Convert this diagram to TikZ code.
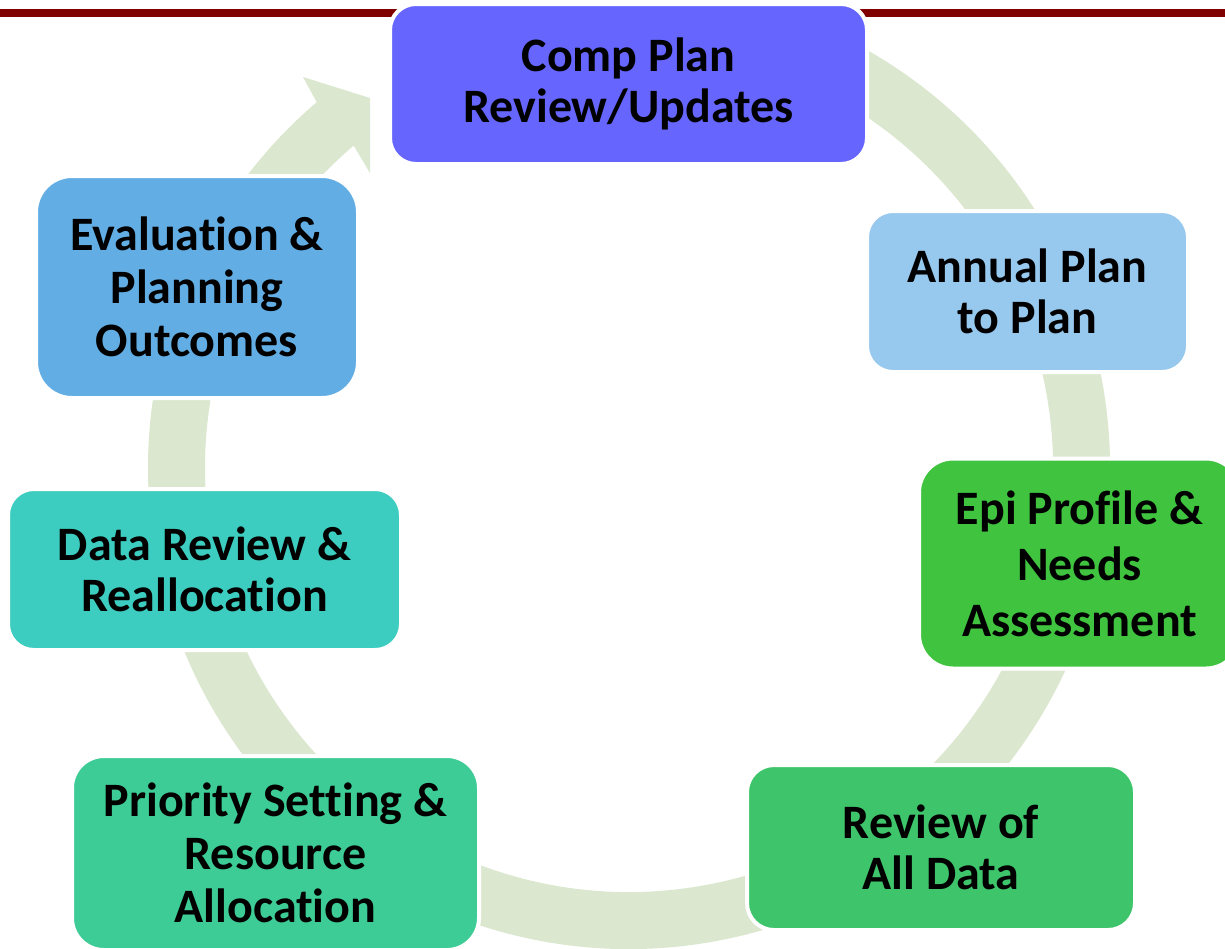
\documentclass[tikz,border=0pt]{standalone}
\usepackage{fontspec}
\setmainfont{Carlito}[RawFeature={-liga;-clig;-dlig;-calt}]
\usepackage{tikz}
\definecolor{topred}{RGB}{128,0,0}
\definecolor{ringgreen}{RGB}{220,231,208}
\definecolor{compblue}{RGB}{102,102,255}
\definecolor{annualblue}{RGB}{151,200,238}
\definecolor{epigreen}{RGB}{64,196,64}
\definecolor{reviewgreen}{RGB}{62,196,106}
\definecolor{priogreen}{RGB}{61,203,150}
\definecolor{datateal}{RGB}{61,205,192}
\definecolor{evalblue}{RGB}{98,174,228}

\begin{document}
\begin{tikzpicture}[x=1pt,y=-1pt,
    stage/.style={draw=white,line width=4pt,rounded corners=26pt,inner sep=0pt,
      align=center,font=\fontsize{48}{51}\selectfont\bfseries},
    ring/.style={draw=ringgreen,line width=57pt}]
      \useasboundingbox (0,0) rectangle (1225,948) ;
      \draw[line width=8pt,topred] (0,13)--(1225,13) ;
      \coordinate (c) at (629,468) ;
      \draw[ring] ([shift={(-62:452.5)}]c) arc[start angle=-62,end angle=230,radius=452.5] ;
      \fill[ringgreen] (316.7,102.2)--(303,77)--(370,98)--(370,173)--(353.7,145.6)--cycle ;
      \node[stage,fill=compblue,minimum width=477,minimum height=160] (comp) at (628.5,84) {Comp Plan\\Review/Updates} ;
      \node[stage,fill=annualblue,minimum width=321,minimum height=161] (annual) at (1027.5,291.5) {Annual Plan\\to Plan} ;
      \node[stage,fill=epigreen,minimum width=321,minimum height=210,rounded corners=34pt,
        font=\fontsize{48}{56}\selectfont\bfseries] (epi) at (1079.5,563.5) {Epi Profile \&\\Needs\\Assessment} ;
      \node[stage,fill=reviewgreen,minimum width=388,minimum height=165,rounded corners=27pt] (review) at (941,847.5) {Review of\\All Data} ;
      \node[stage,fill=priogreen,minimum width=407,minimum height=194,rounded corners=32pt,
        font=\fontsize{48}{53}\selectfont\bfseries] (prio) at (275.5,853) {Priority Setting \&\\Resource\\Allocation} ;
      \node[stage,fill=datateal,minimum width=393,minimum height=161] (datarev) at (204.5,569.5) {Data Review \&\\Reallocation} ;
      \node[stage,fill=evalblue,minimum width=322,minimum height=222,rounded corners=36pt,
        font=\fontsize{48}{53}\selectfont\bfseries] (eval) at (197,287) {Evaluation \&\\Planning\\Outcomes} ;
    \end{tikzpicture}
\end{document}
